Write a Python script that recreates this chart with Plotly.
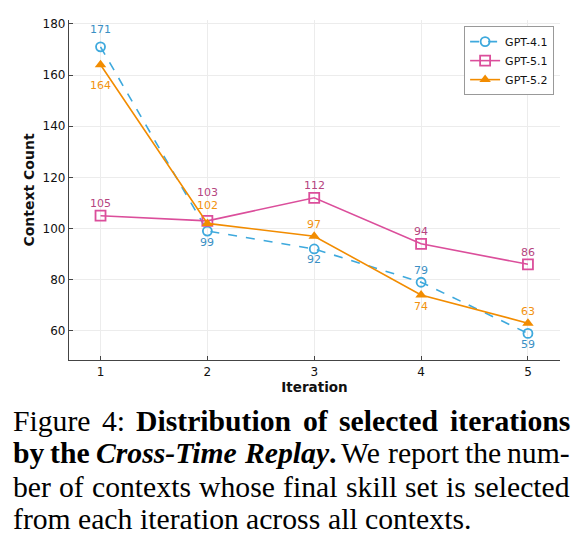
import plotly.graph_objects as go

iterations = [1, 2, 3, 4, 5]
gpt41 = [171, 99, 92, 79, 59]
gpt51 = [105, 103, 112, 94, 86]
gpt52 = [164, 102, 97, 74, 63]
series_names = ["GPT-4.1", "GPT-5.1", "GPT-5.2"]
y_ticks = [60, 80, 100, 120, 140, 160, 180]

# label vertical offsets in px (+ above, - below)
off41 = [17, -11, -11, 12, -11]
off51 = [12, 28, 12, 12, 12]
off52 = [-21, 18, 12, -11, 12]

c41, c51, c52 = "#3ea9dd", "#db4e9b", "#f28c00"
t41, t51, t52 = "#3a8fc4", "#b6457f", "#f2920f"

# caption: list of lines; each line = list of words; each word = list of (text, style)
# style: "r" roman, "b" bold, "bi" bold italic
caption_lines = [
    [[("Figure", "r")], [("4:", "r")], [("Distribution", "b")], [("of", "b")],
     [("selected", "b")], [("iterations", "b")]],
    [[("by", "b")], [("the", "b")], [("Cross-Time", "bi")], [("Replay", "bi"), (".", "b")],
     [("We", "r")], [("report", "r")], [("the", "r")], [("num-", "r")]],
    [[("ber", "r")], [("of", "r")], [("contexts", "r")], [("whose", "r")], [("final", "r")],
     [("skill", "r")], [("set", "r")], [("is", "r")], [("selected", "r")]],
    [[("from", "r")], [("each", "r")], [("iteration", "r")], [("across", "r")], [("all", "r")],
     [("contexts.", "r")]],
]
caption_justify = [True, True, True, False]
caption_y = [421, 453.5, 486.5, 519]

# Times (Liberation Serif compatible) advance widths, per 1000 em
TIMES_R = dict(zip("abcdefghijklmnopqrstuvwxyz",
                   [444, 500, 444, 500, 444, 333, 500, 500, 278, 278, 500, 278, 778, 500, 500, 500,
                    500, 333, 389, 278, 500, 500, 722, 500, 500, 444]))
TIMES_R.update({" ": 250, "-": 333, ".": 250, ":": 278, "4": 500, "F": 556, "W": 944})
TIMES_B = dict(zip("abcdefghijklmnopqrstuvwxyz",
                   [500, 556, 444, 556, 444, 333, 500, 556, 278, 333, 556, 278, 833, 556, 500, 556,
                    556, 444, 389, 333, 556, 500, 722, 500, 500, 444]))
TIMES_B.update({" ": 250, ".": 250, "D": 722})
TIMES_BI = dict(zip("abcdefghijklmnopqrstuvwxyz",
                    [500, 500, 444, 500, 444, 333, 500, 556, 278, 278, 500, 278, 778, 556, 500, 500,
                     500, 389, 389, 278, 556, 444, 667, 500, 444, 389]))
TIMES_BI.update({" ": 250, "-": 333, ".": 250, "C": 667, "T": 611, "R": 667})
METRICS = {"r": TIMES_R, "b": TIMES_B, "bi": TIMES_BI}

CAP_FONT = 29.7
CAP_X0, CAP_X1 = 13, 570


def word_width(word):
    return sum(METRICS[st].get(ch, 500) for txt, st in word for ch in txt) / 1000 * CAP_FONT


def word_html(word):
    out = ""
    for txt, st in word:
        if st == "b":
            out += "<b>" + txt + "</b>"
        elif st == "bi":
            out += "<b><i>" + txt + "</i></b>"
        else:
            out += txt
    return out


W, H = 588, 551
ML, MR, MT, MB = 69, 28, 20, 191
PW, PH = W - ML - MR, H - MT - MB

fig = go.Figure()
fig.add_trace(go.Scatter(x=iterations, y=gpt41, name=series_names[0], mode="lines+markers",
                         line=dict(color=c41, width=1.6, dash="dash"),
                         marker=dict(symbol="circle-open", size=9, color=c41, line=dict(width=1.8))))
fig.add_trace(go.Scatter(x=iterations, y=gpt51, name=series_names[1], mode="lines+markers",
                         line=dict(color=c51, width=1.6),
                         marker=dict(symbol="square-open", size=10, color=c51, line=dict(width=1.8))))
fig.add_trace(go.Scatter(x=iterations, y=gpt52, name=series_names[2], mode="lines+markers",
                         line=dict(color=c52, width=1.6),
                         marker=dict(symbol="triangle-up", size=10, color=c52)))

annotations = []
for vals, offs, col in [(gpt41, off41, t41), (gpt51, off51, t51), (gpt52, off52, t52)]:
    for xv, yv, o in zip(iterations, vals, offs):
        annotations.append(dict(x=xv, y=yv, xref="x", yref="y", text=str(yv), showarrow=False,
                                yshift=o, font=dict(family="DejaVu Sans", size=11, color=col)))

for words, just, ypx in zip(caption_lines, caption_justify, caption_y):
    widths = [word_width(w) for w in words]
    if just:
        gap = (CAP_X1 - CAP_X0 - sum(widths)) / (len(words) - 1)
    else:
        gap = 250 / 1000 * CAP_FONT
    x = CAP_X0
    for w, wd in zip(words, widths):
        annotations.append(dict(x=(x - 2 - ML) / PW, y=(H - MB - ypx) / PH, xref="paper", yref="paper",
                                text=word_html(w), showarrow=False, xanchor="left", yanchor="middle",
                                font=dict(family="Liberation Serif", size=CAP_FONT, color="black")))
        x += wd + gap

fig.update_layout(
    width=W, height=H,
    margin=dict(l=ML, r=MR, t=MT, b=MB),
    plot_bgcolor="white", paper_bgcolor="white",
    font=dict(family="DejaVu Sans", color="#111"),
    showlegend=True,
    legend=dict(x=0.988, y=0.982, xanchor="right", yanchor="top",
                bordercolor="#999", borderwidth=1, bgcolor="white",
                font=dict(size=11, family="DejaVu Sans"), itemwidth=30, tracegroupgap=0),
    xaxis=dict(range=[0.705, 5.30], tickvals=iterations, ticks="inside", ticklen=4,
               showline=True, linecolor="#444", linewidth=1.3, mirror=False,
               showgrid=True, gridcolor="#ececec", gridwidth=1, zeroline=False,
               tickfont=dict(size=12),
               title=dict(text="<b>Iteration</b>", font=dict(size=13.5), standoff=4)),
    yaxis=dict(range=[48.6, 181.5], tickvals=y_ticks, ticks="inside", ticklen=4,
               showline=True, linecolor="#444", linewidth=1.3,
               showgrid=True, gridcolor="#ececec", gridwidth=1, zeroline=False,
               tickfont=dict(size=12),
               title=dict(text="<b>Context Count</b>", font=dict(size=14), standoff=4)),
    annotations=annotations,
)

fig.write_html("out.html")
